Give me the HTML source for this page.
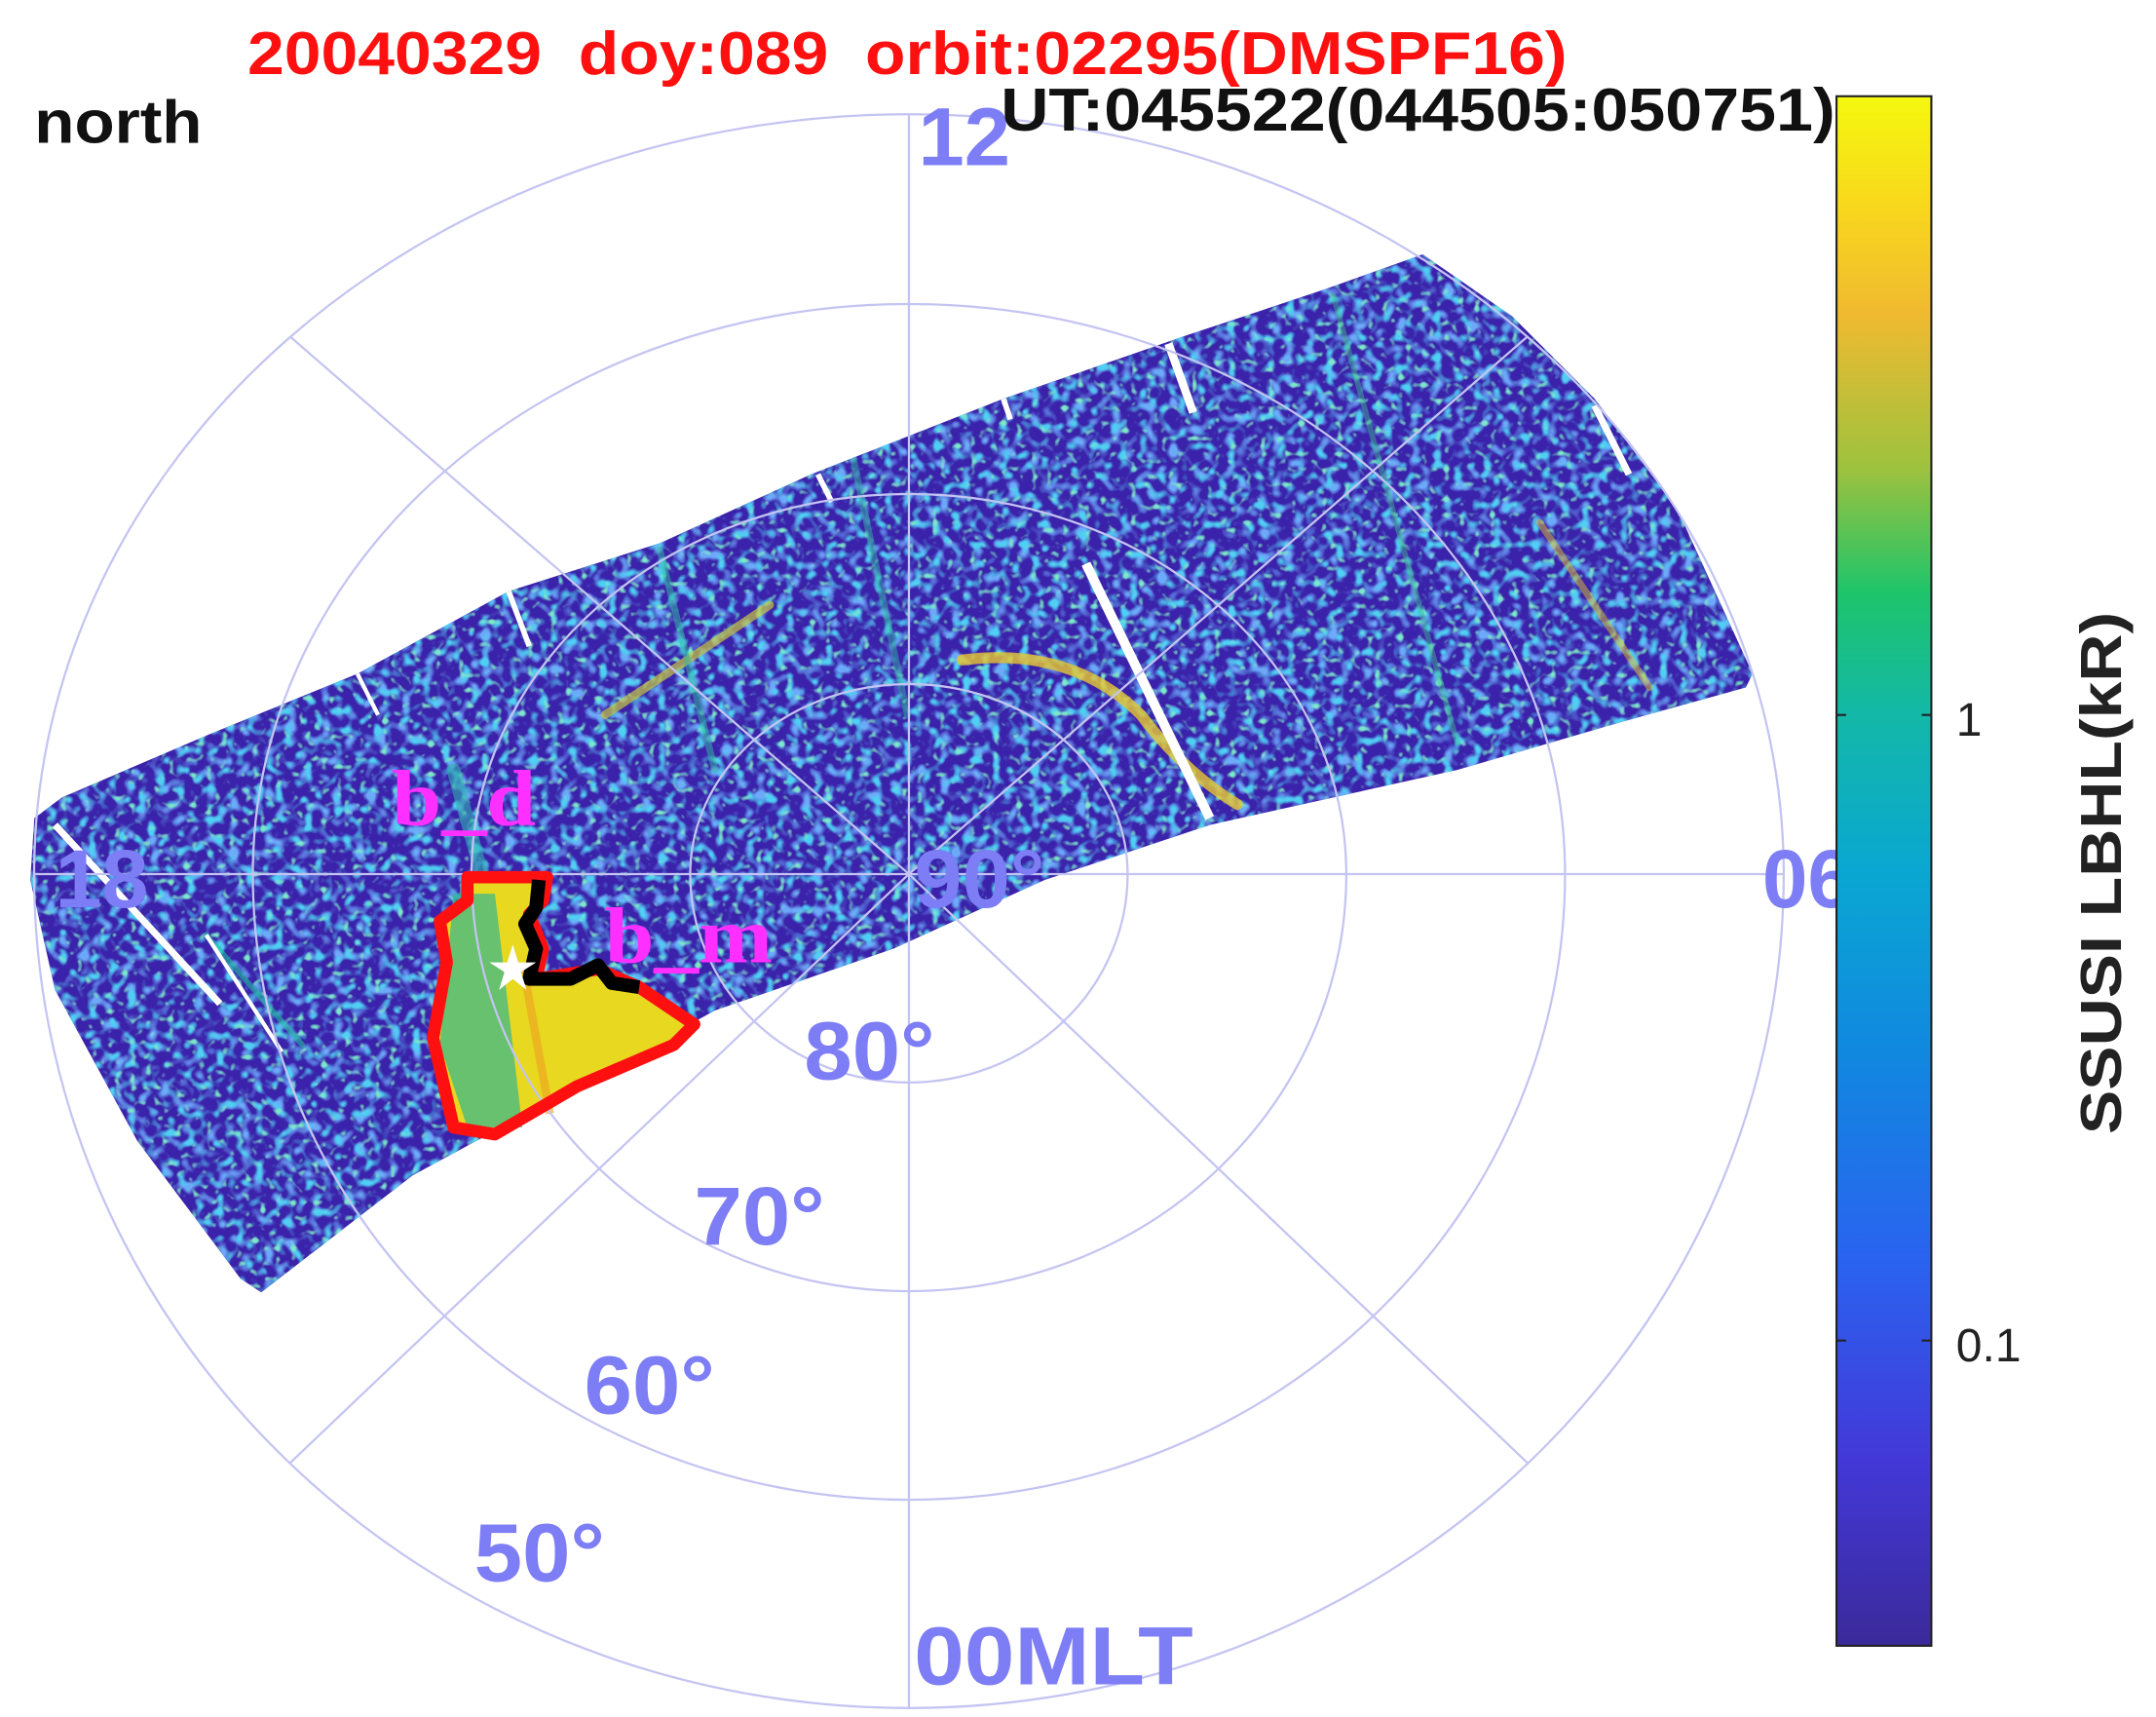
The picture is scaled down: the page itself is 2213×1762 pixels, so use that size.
<!DOCTYPE html>
<html><head><meta charset="utf-8"><style>html,body{margin:0;padding:0;background:#fff}svg{display:block}</style></head>
<body>
<svg width="2213" height="1762" viewBox="0 0 1568.4 1248.8" xmlns="http://www.w3.org/2000/svg">
<defs>
<linearGradient id="cb" x1="0" y1="1" x2="0" y2="0">
<stop offset="0" stop-color="#3b2a9a"/>
<stop offset="0.12" stop-color="#4338d8"/>
<stop offset="0.25" stop-color="#2a63f0"/>
<stop offset="0.38" stop-color="#1187e0"/>
<stop offset="0.5" stop-color="#0aa7d2"/>
<stop offset="0.6" stop-color="#13b8a8"/>
<stop offset="0.68" stop-color="#1ec46a"/>
<stop offset="0.76" stop-color="#9ec23e"/>
<stop offset="0.86" stop-color="#f0ba30"/>
<stop offset="0.93" stop-color="#f8d81c"/>
<stop offset="1" stop-color="#f5f80e"/>
</linearGradient>
<clipPath id="sw"><path d="M22,640 L25,595 L45,580 L150,535 L260,490 L370,430 L480,395 L590,345 L730,290 L860,245 L965,210 L1035,185 L1100,230 L1160,290 L1220,370 L1275,490 L1270,500 L1180,525 L1060,560 L880,600 L760,640 L650,690 L520,735 L420,790 L300,855 L190,940 L175,930 L100,830 L40,720 Z"/></clipPath>
<filter id="sp" x="0" y="0" width="100%" height="100%">
<feTurbulence type="fractalNoise" baseFrequency="0.14" numOctaves="1" seed="4"/>
<feColorMatrix type="matrix" values="0 0 0 0 0.08  0 0 0 0 0.62  0 0 0 0 0.9  5 0 0 0 -2.6"/>
</filter>
<filter id="sp2" x="0" y="0" width="100%" height="100%">
<feTurbulence type="fractalNoise" baseFrequency="0.18" numOctaves="1" seed="11"/>
<feColorMatrix type="matrix" values="0 0 0 0 0.2  0 0 0 0 0.8  0 0 0 0 0.6  6 0 0 0 -3.6"/>
</filter>
<filter id="sp3" x="0" y="0" width="100%" height="100%">
<feTurbulence type="fractalNoise" baseFrequency="0.12" numOctaves="1" seed="21"/>
<feColorMatrix type="matrix" values="0 0 0 0 0.15  0 0 0 0 0.4  0 0 0 0 0.95  5 0 0 0 -2.6"/>
</filter>
</defs>
<g clip-path="url(#sw)">
<rect x="0" y="150" width="1300" height="820" fill="#3b22aa"/>
<rect x="0" y="150" width="1300" height="820" filter="url(#sp3)"/>
<rect x="0" y="150" width="1300" height="820" filter="url(#sp)"/>
<rect x="0" y="150" width="1300" height="820" filter="url(#sp2)"/>
<g fill="none" stroke-linecap="round">
<path d="M700,480 Q780,470 830,520 Q860,560 900,585" stroke="#e8c830" stroke-width="8" opacity="0.8"/>
<path d="M440,520 Q500,480 560,440" stroke="#c8c840" stroke-width="6" opacity="0.7"/>
<path d="M480,400 L520,560" stroke="#30c0a0" stroke-width="5" opacity="0.5"/>
<path d="M620,330 L660,520" stroke="#30c0a0" stroke-width="5" opacity="0.45"/>
<path d="M970,215 L1060,540" stroke="#40c090" stroke-width="4" opacity="0.45"/>
<path d="M1120,380 L1200,500" stroke="#e0c030" stroke-width="5" opacity="0.5"/>
<path d="M330,560 L400,820" stroke="#30b0b0" stroke-width="10" opacity="0.6"/>
<path d="M150,680 L220,760" stroke="#20c0a0" stroke-width="4" opacity="0.6"/>
</g>
<g stroke="#fff" fill="none">
<path d="M40,600 L160,730" stroke-width="5"/>
<path d="M150,680 L205,765" stroke-width="3"/>
<path d="M790,410 L880,595" stroke-width="7"/>
<path d="M850,250 L868,300" stroke-width="6"/>
<path d="M1160,295 L1185,345" stroke-width="5"/>
<path d="M370,430 L385,470" stroke-width="4"/>
<path d="M595,345 L605,365" stroke-width="4"/>
<path d="M730,290 L735,305" stroke-width="4"/>
<path d="M260,490 L275,520" stroke-width="3"/>
</g>
</g>
<path d="M340,638 L398,638 L395,655 L385,665 L395,690 L390,712 L435,705 L465,718 L505,745 L490,760 L420,790 L360,825 L330,820 L315,755 L325,700 L320,670 L340,655 Z" fill="#e8d820"/>
<path d="M330,650 L360,650 L380,820 L340,820 L320,760 Z" fill="#30b890" opacity="0.7"/>
<path d="M380,700 L400,810" stroke="#f0a020" stroke-width="6" opacity="0.6"/>
<g fill="none" stroke="#c4c4f2" stroke-width="1.6">
<path d="M502.1,635.7 A159.1,138.2 0 0 1 820.3,635.7 A159.1,151.7 0 0 1 502.1,635.7"/>
<path d="M343,635.7 A318.2,276.4 0 0 1 979.4,635.7 A318.2,303.4 0 0 1 343,635.7"/>
<path d="M183.9,635.7 A477.3,414.6 0 0 1 1138.5,635.7 A477.3,455.1 0 0 1 183.9,635.7"/>
<path d="M24.8,635.7 A636.4,552.8 0 0 1 1297.6,635.7 A636.4,606.8 0 0 1 24.8,635.7"/>
<line x1="24.8" y1="635.7" x2="1297.6" y2="635.7"/>
<line x1="661.2" y1="83" x2="661.2" y2="1242.5"/>
<line x1="661.2" y1="635.7" x2="211" y2="244.8"/>
<line x1="661.2" y1="635.7" x2="1111.2" y2="244.8"/>
<line x1="661.2" y1="635.7" x2="211" y2="1064"/>
<line x1="661.2" y1="635.7" x2="1111.2" y2="1064"/>
</g>
<path d="M340,638 L398,638 L395,655 L385,665 L395,690 L390,712 L435,705 L465,718 L505,745 L490,760 L420,790 L360,825 L330,820 L315,755 L325,700 L320,670 L340,655 Z" fill="none" stroke="#ff1010" stroke-width="9" stroke-linejoin="round"/>
<path d="M392,640 L390,660 L382,672 L390,690 L385,712 L415,712 L435,702 L445,715 L465,718" fill="none" stroke="#000" stroke-width="10" stroke-linejoin="round"/>
<polygon points="373,687 377,700 390,700 379,707 383,720 373,712 363,720 367,707 356,700 369,700" fill="#fff"/>
<g font-family="Liberation Sans, sans-serif" font-weight="bold" fill="#7d7df5" font-size="60">
<text x="668" y="120" textLength="67" lengthAdjust="spacingAndGlyphs">12</text>
<text x="40" y="660" textLength="68" lengthAdjust="spacingAndGlyphs">18</text>
<text x="1282" y="660" textLength="66" lengthAdjust="spacingAndGlyphs">06</text>
<text x="665" y="660" textLength="95" lengthAdjust="spacingAndGlyphs">90°</text>
<text x="585" y="785" textLength="95" lengthAdjust="spacingAndGlyphs">80°</text>
<text x="505" y="905" textLength="95" lengthAdjust="spacingAndGlyphs">70°</text>
<text x="425" y="1028" textLength="95" lengthAdjust="spacingAndGlyphs">60°</text>
<text x="345" y="1150" textLength="95" lengthAdjust="spacingAndGlyphs">50°</text>
<text x="665" y="1225" textLength="203" lengthAdjust="spacingAndGlyphs">00MLT</text>
</g>
<g font-family="Liberation Serif, serif" font-weight="bold" fill="#ff30ff" font-size="58">
<text x="285" y="600" textLength="105" lengthAdjust="spacingAndGlyphs">b_d</text>
<text x="440" y="700" textLength="122" lengthAdjust="spacingAndGlyphs">b_m</text>
</g>
<rect x="1336" y="70" width="69" height="1127" fill="url(#cb)" stroke="#222" stroke-width="1.5"/>
<g stroke="#222" stroke-width="1.5">
<line x1="1336" y1="520" x2="1343" y2="520"/><line x1="1398" y1="520" x2="1405" y2="520"/>
<line x1="1336" y1="975" x2="1343" y2="975"/><line x1="1398" y1="975" x2="1405" y2="975"/>
</g>
<g font-family="Liberation Sans, sans-serif" fill="#222" font-size="34">
<text x="1423" y="535">1</text>
<text x="1423" y="990">0.1</text>
</g>
<text transform="translate(1543,635) rotate(-90)" text-anchor="middle" font-family="Liberation Sans, sans-serif" font-weight="bold" font-size="42" fill="#222" textLength="380" lengthAdjust="spacingAndGlyphs">SSUSI LBHL(kR)</text>
<g font-family="Liberation Sans, sans-serif" font-weight="bold" font-size="44">
<text x="180" y="54" fill="#ff1010" textLength="960" lengthAdjust="spacingAndGlyphs" xml:space="preserve">20040329  doy:089  orbit:02295(DMSPF16)</text>
<text x="25" y="104" fill="#111" textLength="122" lengthAdjust="spacingAndGlyphs">north</text>
<text x="728" y="95" fill="#111" textLength="607" lengthAdjust="spacingAndGlyphs">UT:045522(044505:050751)</text>
</g>
</svg>
</body></html>
